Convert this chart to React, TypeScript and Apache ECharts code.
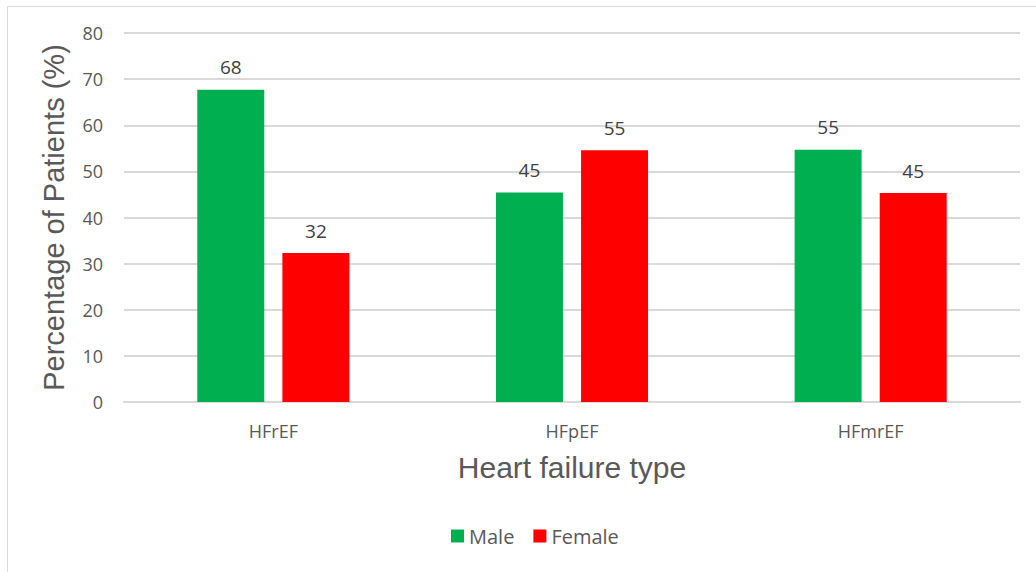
import React, { useEffect, useRef } from "react";
import * as echarts from "echarts";

const categories = ["HFrEF", "HFpEF", "HFmrEF"];
const maleValues = [67.7, 45.4, 54.7];
const femaleValues = [32.3, 54.6, 45.3];
const yTicks = { min: 0, max: 80, interval: 10 };

export default function App() {
  const ref = useRef<HTMLDivElement>(null);
  useEffect(() => {
    const chart = echarts.init(ref.current!, null, { renderer: "svg" });
    const font = "'Open Sans', 'Noto Sans', sans-serif";
    const titleFont = "'Liberation Sans', Arial, sans-serif";
    const labelStyle = {
      show: true,
      position: "top" as const,
      distance: 13,
      color: "#404040",
      fontSize: 19,
      fontFamily: font,
      formatter: (p: any) => String(Math.round(p.value)),
    };
    chart.setOption({
      animation: false,
      textStyle: { fontFamily: font },
      graphic: [
        {
          type: "rect",
          shape: { x: 7.5, y: 6.5, width: 1200, height: 800 },
          style: { fill: "none", stroke: "#d9d9d9", lineWidth: 1 },
          silent: true,
        },
      ],
      grid: { left: 124, right: 16, top: 33, bottom: 170, containLabel: false },
      legend: {
        bottom: 21,
        left: 446,
        itemWidth: 13,
        itemHeight: 13,
        itemGap: 19,
        icon: "rect",
        textStyle: { color: "#595959", fontSize: 20, fontFamily: font },
        data: ["Male", "Female"],
      },
      xAxis: {
        type: "category",
        data: categories,
        name: "Heart failure type",
        nameLocation: "middle",
        nameGap: 50,
        nameTextStyle: { color: "#595959", fontSize: 30, fontFamily: titleFont },
        axisLine: { lineStyle: { color: "#d9d9d9", width: 2 } },
        axisTick: { show: false },
        axisLabel: { color: "#595959", fontSize: 18, margin: 20, fontFamily: font },
      },
      yAxis: {
        type: "value",
        min: yTicks.min,
        max: yTicks.max,
        interval: yTicks.interval,
        name: "Percentage of Patients (%)",
        nameLocation: "middle",
        nameGap: 56,
        nameTextStyle: { color: "#595959", fontSize: 29, fontFamily: titleFont },
        axisLine: { show: false },
        axisTick: { show: false },
        axisLabel: { color: "#595959", fontSize: 18, margin: 21, fontFamily: font },
        splitLine: { lineStyle: { color: "#d9d9d9", width: 2 } },
      },
      series: [
        {
          name: "Male",
          type: "bar",
          data: maleValues,
          barWidth: 67,
          barGap: "27%",
          itemStyle: { color: "#00b050" },
          label: labelStyle,
        },
        {
          name: "Female",
          type: "bar",
          data: femaleValues,
          barWidth: 67,
          barGap: "27%",
          itemStyle: { color: "#ff0000" },
          label: labelStyle,
        },
      ],
    });
    return () => chart.dispose();
  }, []);
  return (
    <div
      ref={ref}
      style={{ position: "fixed", left: 0, top: 0, width: 1036, height: 572, background: "#fff" }}
    />
  );
}
